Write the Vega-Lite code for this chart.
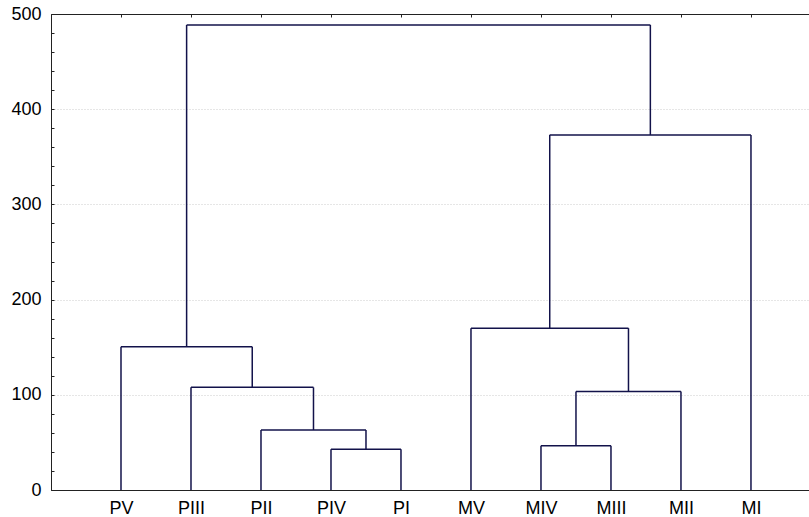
{
  "$schema": "https://vega.github.io/schema/vega-lite/v6.json",
  "width": 758,
  "height": 476,
  "autosize": "none",
  "padding": {"left": 51, "top": 14, "right": 0, "bottom": 27},
  "background": "white",
  "config": {
    "view": {"stroke": null},
    "axis": {"labelFont": "Liberation Sans", "labelFontSize": 18, "labelColor": "black", "domainColor": "#222222", "tickColor": "#222222"}
  },
  "data": {
    "values": [
      {"x": 4, "x2": 4, "y": 0, "y2": 42.7},
      {"x": 5, "x2": 5, "y": 0, "y2": 42.7},
      {"x": 4, "x2": 5, "y": 42.7, "y2": 42.7},
      {"x": 3, "x2": 3, "y": 0, "y2": 63},
      {"x": 4.5, "x2": 4.5, "y": 42.7, "y2": 63},
      {"x": 3, "x2": 4.5, "y": 63, "y2": 63},
      {"x": 2, "x2": 2, "y": 0, "y2": 107.8},
      {"x": 3.75, "x2": 3.75, "y": 63, "y2": 107.8},
      {"x": 2, "x2": 3.75, "y": 107.8, "y2": 107.8},
      {"x": 1, "x2": 1, "y": 0, "y2": 150.5},
      {"x": 2.875, "x2": 2.875, "y": 107.8, "y2": 150.5},
      {"x": 1, "x2": 2.875, "y": 150.5, "y2": 150.5},
      {"x": 7, "x2": 7, "y": 0, "y2": 46.5},
      {"x": 8, "x2": 8, "y": 0, "y2": 46.5},
      {"x": 7, "x2": 8, "y": 46.5, "y2": 46.5},
      {"x": 9, "x2": 9, "y": 0, "y2": 103.5},
      {"x": 7.5, "x2": 7.5, "y": 46.5, "y2": 103.5},
      {"x": 7.5, "x2": 9, "y": 103.5, "y2": 103.5},
      {"x": 6, "x2": 6, "y": 0, "y2": 170},
      {"x": 8.25, "x2": 8.25, "y": 103.5, "y2": 170},
      {"x": 6, "x2": 8.25, "y": 170, "y2": 170},
      {"x": 10, "x2": 10, "y": 0, "y2": 373},
      {"x": 7.125, "x2": 7.125, "y": 170, "y2": 373},
      {"x": 7.125, "x2": 10, "y": 373, "y2": 373},
      {"x": 1.9375, "x2": 1.9375, "y": 150.5, "y2": 488.5},
      {"x": 8.5625, "x2": 8.5625, "y": 373, "y2": 488.5},
      {"x": 1.9375, "x2": 8.5625, "y": 488.5, "y2": 488.5}
    ]
  },
  "resolve": {"axis": {"x": "independent", "y": "independent"}},
  "layer": [
    {
      "mark": {"type": "rule", "opacity": 0},
      "encoding": {
        "x": {"field": "x", "type": "quantitative", "scale": {"domain": [0, 10.829], "nice": false, "zero": false},
          "axis": {"orient": "top", "values": [1,2,3,4,5,6,7,8,9,10], "labels": false, "title": null, "grid": false, "tickSize": -3, "domain": true}},
        "x2": {"field": "x2"},
        "y": {"field": "y", "type": "quantitative", "scale": {"domain": [0, 500], "nice": false},
          "axis": {"orient": "left", "values": [0,20,40,60,80,100,120,140,160,180,200,220,240,260,280,300,320,340,360,380,400,420,440,460,480,500], "labels": false, "title": null, "grid": false, "tickSize": -3, "domain": true}},
        "y2": {"field": "y2"}
      }
    },
    {
      "mark": {"type": "rule", "color": "#12124a", "strokeWidth": 1.5},
      "encoding": {
        "x": {"field": "x", "type": "quantitative",
          "axis": {"orient": "bottom", "values": [1,2,3,4,5,6,7,8,9,10], "title": null, "grid": false, "ticks": false, "labelPadding": 9,
            "labelExpr": "['', 'PV', 'PIII', 'PII', 'PIV', 'PI', 'MV', 'MIV', 'MIII', 'MII', 'MI'][datum.value]"}},
        "x2": {"field": "x2"},
        "y": {"field": "y", "type": "quantitative",
          "axis": {"orient": "left", "values": [0,100,200,300,400,500], "title": null, "ticks": false, "labelPadding": 10,
            "grid": true, "gridColor": "#cccccc", "gridDash": [1, 2], "gridWidth": 1}},
        "y2": {"field": "y2"}
      }
    }
  ]
}
